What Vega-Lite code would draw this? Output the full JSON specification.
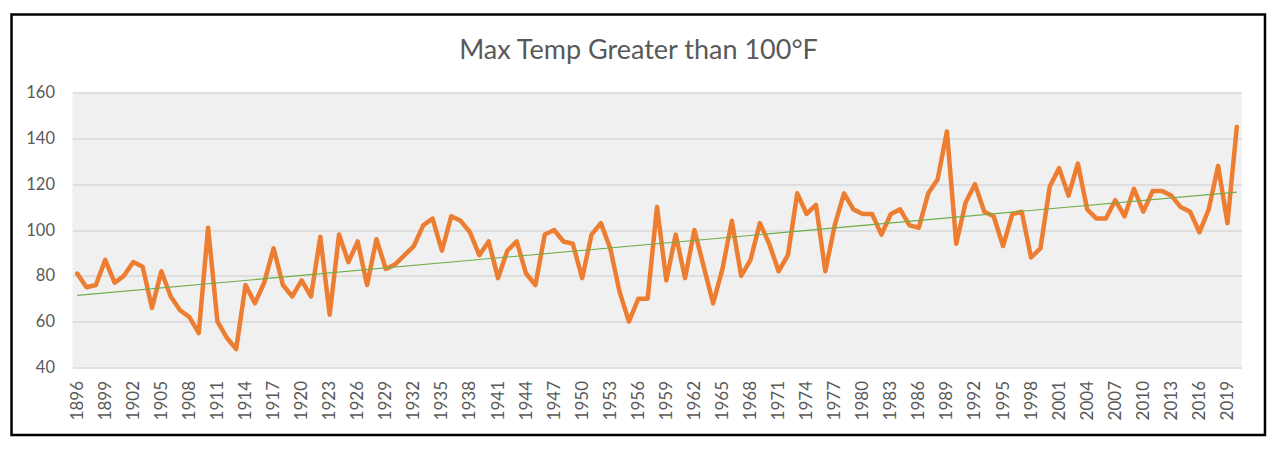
{
  "$schema": "https://vega.github.io/schema/vega-lite/v6.json",
  "width": 1169,
  "height": 275,
  "autosize": {"type": "none"},
  "padding": {"left": 72.5, "top": 92.5, "right": 40.5, "bottom": 83.5},
  "background": "white",
  "title": {
    "text": "Max Temp Greater than 100°F",
    "font": "Lato",
    "fontSize": 27,
    "fontWeight": "normal",
    "color": "#595959",
    "anchor": "middle",
    "frame": "group",
    "baseline": "alphabetic",
    "dx": -18.5,
    "offset": 0,
    "dy": 73
  },
  "config": {
    "view": {"fill": "#F0F0F0", "stroke": null},
    "axis": {
      "labelFont": "Lato",
      "labelColor": "#595959",
      "ticks": false,
      "domain": false,
      "title": null
    },
    "axisX": {"grid": false, "labelAngle": -90, "labelPadding": 13, "labelOverlap": false, "labelFontSize": 17},
    "axisY": {"grid": true, "gridColor": "#D9D9D9", "gridWidth": 1.4, "labelPadding": 18, "labelFontSize": 16.5}
  },
  "data": {
    "values": [
      {"year": 1896, "value": 81}, {"year": 1897, "value": 75}, {"year": 1898, "value": 76},
      {"year": 1899, "value": 87}, {"year": 1900, "value": 77}, {"year": 1901, "value": 80},
      {"year": 1902, "value": 86}, {"year": 1903, "value": 84}, {"year": 1904, "value": 66},
      {"year": 1905, "value": 82}, {"year": 1906, "value": 71}, {"year": 1907, "value": 65},
      {"year": 1908, "value": 62}, {"year": 1909, "value": 55}, {"year": 1910, "value": 101},
      {"year": 1911, "value": 60}, {"year": 1912, "value": 53}, {"year": 1913, "value": 48},
      {"year": 1914, "value": 76}, {"year": 1915, "value": 68}, {"year": 1916, "value": 77},
      {"year": 1917, "value": 92}, {"year": 1918, "value": 76}, {"year": 1919, "value": 71},
      {"year": 1920, "value": 78}, {"year": 1921, "value": 71}, {"year": 1922, "value": 97},
      {"year": 1923, "value": 63}, {"year": 1924, "value": 98}, {"year": 1925, "value": 86},
      {"year": 1926, "value": 95}, {"year": 1927, "value": 76}, {"year": 1928, "value": 96},
      {"year": 1929, "value": 83}, {"year": 1930, "value": 85}, {"year": 1931, "value": 89},
      {"year": 1932, "value": 93}, {"year": 1933, "value": 102}, {"year": 1934, "value": 105},
      {"year": 1935, "value": 91}, {"year": 1936, "value": 106}, {"year": 1937, "value": 104},
      {"year": 1938, "value": 99}, {"year": 1939, "value": 89}, {"year": 1940, "value": 95},
      {"year": 1941, "value": 79}, {"year": 1942, "value": 91}, {"year": 1943, "value": 95},
      {"year": 1944, "value": 81}, {"year": 1945, "value": 76}, {"year": 1946, "value": 98},
      {"year": 1947, "value": 100}, {"year": 1948, "value": 95}, {"year": 1949, "value": 94},
      {"year": 1950, "value": 79}, {"year": 1951, "value": 98}, {"year": 1952, "value": 103},
      {"year": 1953, "value": 92}, {"year": 1954, "value": 73}, {"year": 1955, "value": 60},
      {"year": 1956, "value": 70}, {"year": 1957, "value": 70}, {"year": 1958, "value": 110},
      {"year": 1959, "value": 78}, {"year": 1960, "value": 98}, {"year": 1961, "value": 79},
      {"year": 1962, "value": 100}, {"year": 1963, "value": 84}, {"year": 1964, "value": 68},
      {"year": 1965, "value": 83}, {"year": 1966, "value": 104}, {"year": 1967, "value": 80},
      {"year": 1968, "value": 87}, {"year": 1969, "value": 103}, {"year": 1970, "value": 94},
      {"year": 1971, "value": 82}, {"year": 1972, "value": 89}, {"year": 1973, "value": 116},
      {"year": 1974, "value": 107}, {"year": 1975, "value": 111}, {"year": 1976, "value": 82},
      {"year": 1977, "value": 102}, {"year": 1978, "value": 116}, {"year": 1979, "value": 109},
      {"year": 1980, "value": 107}, {"year": 1981, "value": 107}, {"year": 1982, "value": 98},
      {"year": 1983, "value": 107}, {"year": 1984, "value": 109}, {"year": 1985, "value": 102},
      {"year": 1986, "value": 101}, {"year": 1987, "value": 116}, {"year": 1988, "value": 122},
      {"year": 1989, "value": 143}, {"year": 1990, "value": 94}, {"year": 1991, "value": 112},
      {"year": 1992, "value": 120}, {"year": 1993, "value": 108}, {"year": 1994, "value": 106},
      {"year": 1995, "value": 93}, {"year": 1996, "value": 107}, {"year": 1997, "value": 108},
      {"year": 1998, "value": 88}, {"year": 1999, "value": 92}, {"year": 2000, "value": 119},
      {"year": 2001, "value": 127}, {"year": 2002, "value": 115}, {"year": 2003, "value": 129},
      {"year": 2004, "value": 109}, {"year": 2005, "value": 105}, {"year": 2006, "value": 105},
      {"year": 2007, "value": 113}, {"year": 2008, "value": 106}, {"year": 2009, "value": 118},
      {"year": 2010, "value": 108}, {"year": 2011, "value": 117}, {"year": 2012, "value": 117},
      {"year": 2013, "value": 115}, {"year": 2014, "value": 110}, {"year": 2015, "value": 108},
      {"year": 2016, "value": 99}, {"year": 2017, "value": 109}, {"year": 2018, "value": 128},
      {"year": 2019, "value": 103}, {"year": 2020, "value": 145}
    ]
  },
  "layer": [
    {
      "data": {"values": [{}]},
      "mark": {"type": "rect", "fill": null, "stroke": "#000000", "strokeWidth": 2.5, "clip": false},
      "encoding": {
        "x": {
          "datum": 1888.98,
          "type": "quantitative",
          "title": null,
          "scale": {"domain": [1895.5, 2020.5], "nice": false, "zero": false},
          "axis": {
            "values": [1896, 1899, 1902, 1905, 1908, 1911, 1914, 1917, 1920, 1923, 1926, 1929, 1932, 1935, 1938, 1941, 1944, 1947, 1950, 1953, 1956, 1959, 1962, 1965, 1968, 1971, 1974, 1977, 1980, 1983, 1986, 1989, 1992, 1995, 1998, 2001, 2004, 2007, 2010, 2013, 2016, 2019],
            "format": "d",
            "labelOverlap": false,
            "labelSeparation": 0,
            "title": null
          }
        },
        "x2": {"datum": 2023.01},
        "y": {
          "datum": 194.04,
          "type": "quantitative",
          "title": null,
          "scale": {"domain": [40, 160], "nice": false, "zero": false},
          "axis": {"values": [40, 60, 80, 100, 120, 140, 160], "title": null}
        },
        "y2": {"datum": 10.55}
      }
    },
    {
      "mark": {"type": "line", "color": "#ED7D31", "strokeWidth": 4.5, "strokeJoin": "round", "strokeCap": "round"},
      "encoding": {
        "x": {
          "field": "year",
          "type": "quantitative",
          "title": null,
          "axis": {
            "values": [1896, 1899, 1902, 1905, 1908, 1911, 1914, 1917, 1920, 1923, 1926, 1929, 1932, 1935, 1938, 1941, 1944, 1947, 1950, 1953, 1956, 1959, 1962, 1965, 1968, 1971, 1974, 1977, 1980, 1983, 1986, 1989, 1992, 1995, 1998, 2001, 2004, 2007, 2010, 2013, 2016, 2019],
            "format": "d",
            "labelOverlap": false,
            "labelSeparation": 0,
            "title": null
          }
        },
        "y": {"field": "value", "type": "quantitative", "title": null}
      }
    },
    {
      "transform": [{"regression": "value", "on": "year"}],
      "mark": {"type": "line", "color": "#70AD47", "strokeWidth": 1.1},
      "encoding": {
        "x": {
          "field": "year",
          "type": "quantitative",
          "title": null,
          "axis": {
            "values": [1896, 1899, 1902, 1905, 1908, 1911, 1914, 1917, 1920, 1923, 1926, 1929, 1932, 1935, 1938, 1941, 1944, 1947, 1950, 1953, 1956, 1959, 1962, 1965, 1968, 1971, 1974, 1977, 1980, 1983, 1986, 1989, 1992, 1995, 1998, 2001, 2004, 2007, 2010, 2013, 2016, 2019],
            "format": "d",
            "labelOverlap": false,
            "labelSeparation": 0,
            "title": null
          }
        },
        "y": {"field": "value", "type": "quantitative", "title": null}
      }
    }
  ]
}
